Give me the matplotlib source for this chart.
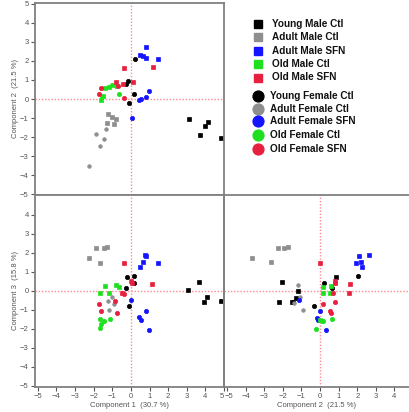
import matplotlib
matplotlib.use("Agg")
import matplotlib.pyplot as plt
from matplotlib.transforms import ScaledTranslation

plt.rcParams['font.family'] = ['Liberation Sans', 'DejaVu Sans']

# ---- data: (x, y) pairs per group, per panel ----
# Component 1 vs Component 2 (top left)
c1c2_black = [(3.10, -1.07), (3.73, -1.91), (3.99, -1.42), (4.13, -1.23), (4.85, -2.04),
              (0.23, 2.09), (-0.14, 0.95), (-0.27, 0.79), (0.18, 0.28), (-0.09, -0.19)]
c1c2_gray = [(-1.21, -0.79), (-1.02, -0.96), (-0.82, -1.07), (-1.27, -1.28), (-0.91, -1.33),
             (-1.32, -1.60), (-1.87, -1.82), (-1.46, -2.10), (-1.66, -2.47), (-2.25, -3.53)]
c1c2_blue = [(0.79, 2.72), (0.48, 2.32), (0.66, 2.28), (0.80, 2.17), (1.43, 2.09),
             (0.96, 0.44), (0.80, 0.09), (0.52, -0.02), (0.41, -0.05), (0.05, -1.02)]
c1c2_green = [(-1.62, -0.05), (-1.48, 0.16), (-1.37, 0.60), (-1.16, 0.61),
              (-1.03, 0.74), (-0.80, 0.68), (-0.64, 0.25), (-1.55, 0.08)]
c1c2_red = [(-0.37, 1.65), (1.18, 1.70), (0.11, 0.91), (-0.44, 0.77), (-0.82, 0.88),
            (-0.68, 0.68), (-1.60, 0.56), (-1.71, 0.26), (-0.36, 0.07)]

# Component 1 vs Component 3 (bottom left)
c1c3_black = [(3.06, 0.02), (3.68, 0.44), (3.95, -0.58), (4.10, -0.32), (4.85, -0.56),
              (-0.19, 0.70), (0.19, 0.77), (0.15, 0.40), (-0.27, 0.12), (-0.09, -0.82)]
c1c3_gray = [(-2.23, 1.72), (-1.89, 2.25), (-1.46, 2.26), (-1.30, 2.30), (-1.64, 1.47),
             (-1.00, -0.35), (-1.23, -0.56), (-0.89, -0.70), (-1.19, -1.02)]
c1c3_blue = [(0.79, 1.84), (0.66, 1.49), (0.48, 1.23), (1.43, 1.44), (0.77, 1.90),
             (0.02, -0.47), (0.80, -1.05), (0.41, -1.40), (0.53, -1.54), (0.96, -2.09)]
c1c3_green = [(-1.39, 0.25), (-1.66, -0.12), (-1.16, -0.10), (-0.80, 0.30), (-0.64, 0.19),
              (-1.66, -1.51), (-1.46, -1.61), (-1.59, -1.74), (-1.10, -1.49), (-1.67, -1.98)]
c1c3_red = [(-0.36, 1.47), (1.15, 0.35), (0.01, 0.51), (0.06, 0.42), (-0.48, -0.10),
            (-0.36, -0.16), (-1.70, -0.72), (-1.62, -1.07), (-0.83, -0.56), (-0.72, -1.16)]

# Component 2 vs Component 3 (bottom right)
c2c3_black = [(-2.03, 0.44), (-1.20, -0.02), (-2.19, -0.58), (-1.52, -0.58), (-1.31, -0.37),
              (0.84, 0.70), (0.20, 0.40), (0.65, 0.12), (2.03, 0.77), (-0.32, -0.81), (-1.45, -0.62)]
c2c3_gray = [(-3.67, 1.74), (-2.62, 1.51), (-2.24, 2.26), (-1.95, 2.25), (-1.70, 2.32),
             (-1.20, 0.32), (-1.08, -0.35), (-1.40, -0.66), (-0.90, -1.02)]
c2c3_blue = [(2.08, 1.83), (2.63, 1.88), (1.94, 1.44), (2.20, 1.49), (2.24, 1.23),
             (0.02, -1.08), (-0.14, -1.42), (-0.10, -1.54), (0.32, -2.07), (-1.15, -0.49)]
c2c3_green = [(0.57, 0.26), (0.14, 0.18), (0.52, -0.10), (0.14, -0.14), (-0.02, -1.54),
              (0.15, -1.60), (0.63, -1.49), (-0.22, -2.00), (0.08, -1.62)]
c2c3_red = [(-0.02, 1.47), (0.82, 0.50), (0.80, 0.38), (1.61, 0.34), (1.58, -0.14),
            (0.70, -0.10), (0.18, -0.72), (0.82, -0.58), (0.52, -1.05), (0.59, -1.16)]

male_labels = ['Young Male Ctl', 'Adult Male Ctl', 'Adult Male SFN', 'Old Male Ctl', 'Old Male SFN']
female_labels = ['Young Female Ctl', 'Adult Female Ctl', 'Adult Female SFN', 'Old Female Ctl', 'Old Female SFN']

colors = ['#000000', '#8e8e8e', '#1414ff', '#1fe01f', '#e8203f']

W, H = 409, 412
fig = plt.figure(figsize=(W / 100, H / 100), dpi=100)

def fx(px):
    return px / W

def fy(py):
    return 1 - py / H

frame = '#808080'
tick_col = '#555555'

ax12 = fig.add_axes([fx(35), fy(195), fx(224) - fx(35), fy(3) - fy(195)])
ax13 = fig.add_axes([fx(35), fy(387), fx(224) - fx(35), fy(195) - fy(387)])
ax23 = fig.add_axes([fx(224), fy(387), fx(409) - fx(224), fy(195) - fy(387)])
axleg = fig.add_axes([fx(224), fy(195), fx(409) - fx(224), fy(3) - fy(195)])

panels = [
    (ax12, [c1c2_black, c1c2_gray, c1c2_blue, c1c2_green, c1c2_red]),
    (ax13, [c1c3_black, c1c3_gray, c1c3_blue, c1c3_green, c1c3_red]),
    (ax23, [c2c3_black, c2c3_gray, c2c3_blue, c2c3_green, c2c3_red]),
]

for ax, groups in panels:
    ax.axhline(0, color='#ff8a94', lw=1.0, ls=(0, (1, 1.3)), zorder=1)
    ax.axvline(0, color='#ff8a94', lw=1.0, ls=(0, (1, 1.3)), zorder=1)
    for pts, c in zip(groups, colors):
        n_male = (len(pts) + 1) // 2
        xs = [p[0] for p in pts]
        ys = [p[1] for p in pts]
        sz = 2.3 if c == '#8e8e8e' else 2.8
        ax.plot(xs[:n_male], ys[:n_male], ls='none', marker='s', ms=sz,
                color=c, mec=c, mew=0.5, zorder=3)
        ax.plot(xs[n_male:], ys[n_male:], ls='none', marker='o', ms=sz + 0.3,
                color=c, mec=c, mew=0.5, zorder=3)
    for s in ax.spines.values():
        s.set_color(frame)
        s.set_linewidth(1.3)
    ax.tick_params(direction='out', length=3, width=0.8, color=tick_col,
                   labelsize=5.5, labelcolor=tick_col, pad=1.5)

# top left
ax12.set_xlim(-5.15, 5.0)
ax12.set_ylim(-5.05, 5.05)
ax12.set_yticks(range(-5, 6))
ax12.set_xticks([])
ax12.spines['right'].set_visible(False)
ax12.set_ylabel('Component 2  (21.5 %)', fontsize=5.5, color=tick_col, labelpad=1)

# bottom left
ax13.set_xlim(-5.15, 5.0)
ax13.set_ylim(-5.07, 5.04)
ax13.set_yticks(range(-5, 5))
ax13.set_xticks(range(-5, 6))
ax13.spines['right'].set_visible(False)
ax13.spines['top'].set_visible(False)
ax13.set_ylabel('Component 3  (15.8 %)', fontsize=5.5, color=tick_col, labelpad=1)
ax13.set_xlabel('Component 1  (30.7 %)', fontsize=5.5, color=tick_col, labelpad=1)

# bottom right
ax23.set_xlim(-5.16, 4.78)
ax23.set_ylim(-5.07, 5.04)
ax23.set_yticks([])
ax23.set_xticks(range(-5, 5))
ax23.spines['right'].set_visible(False)
ax23.spines['top'].set_visible(False)
ax23.set_xlabel('Component 2  (21.5 %)', fontsize=5.5, color=tick_col, labelpad=1)

# nudge the two labels that meet at the vertical divider ("5" / "-5")
fig.canvas.draw()
ax13.get_xticklabels()[-1].set_transform(
    ax13.get_xticklabels()[-1].get_transform() + ScaledTranslation(-2 / 100, 0, fig.dpi_scale_trans))
ax23.get_xticklabels()[0].set_transform(
    ax23.get_xticklabels()[0].get_transform() + ScaledTranslation(2 / 100, 0, fig.dpi_scale_trans))

# dividers
fig.add_artist(plt.Line2D([fx(35), 1], [fy(195), fy(195)], color=frame, lw=1.3))
fig.add_artist(plt.Line2D([fx(224), fx(224)], [fy(3), fy(387)], color=frame, lw=1.3))

# legend, drawn in pixel units of the empty top-right cell
axleg.set_xlim(224, 409)
axleg.set_ylim(195, 3)
axleg.axis('off')
sq_rows = [24, 37, 50.5, 64, 77.5]
ci_rows = [96, 108.5, 121, 134.5, 148.5]
for lab, c, y in zip(male_labels, colors, sq_rows):
    axleg.plot(258, y, marker='s', ms=6.4, color=c, ls='none')
    axleg.text(272, y, lab, fontsize=7.2, fontweight='bold', color='#111111',
               va='center', ha='left')
for lab, c, y in zip(female_labels, colors, ci_rows):
    axleg.plot(258, y, marker='o', ms=7.8, color=c, ls='none')
    axleg.text(270, y, lab, fontsize=7.2, fontweight='bold', color='#111111',
               va='center', ha='left')

fig.savefig('out.png', dpi=100)
